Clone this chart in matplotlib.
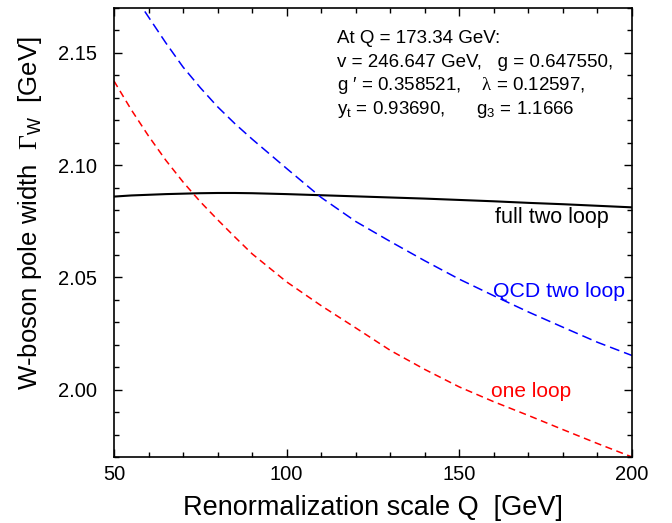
import matplotlib
matplotlib.use('Agg')
import matplotlib.pyplot as plt
from matplotlib.ticker import MultipleLocator

# renormalization scale Q [GeV]
Q = [50, 55, 60, 65, 70, 75, 80, 85, 90, 100, 110, 120, 130, 140, 150, 160,
     170, 180, 190, 200]

# W-boson pole width [GeV]
one_loop = [2.1375, 2.1247, 2.1130, 2.1022, 2.0925, 2.0837, 2.0757, 2.0680,
            2.0605, 2.0480, 2.0374, 2.0275, 2.0175, 2.0090, 2.0012, 1.9946,
            1.9885, 1.9822, 1.9760, 1.9700]
qcd_two_loop = [2.1900, 2.1775, 2.1660, 2.1545, 2.1437, 2.1345, 2.1260, 2.1185,
                2.1116, 2.0985, 2.0856, 2.0749, 2.0660, 2.0574, 2.0492, 2.0418,
                2.0346, 2.0278, 2.0211, 2.0152]
full_two_loop = [2.0860, 2.0865, 2.0868, 2.0871, 2.0873, 2.0875, 2.0876, 2.0876,
                 2.0875, 2.0871, 2.0866, 2.0861, 2.0856, 2.0851, 2.0845, 2.0839,
                 2.0832, 2.0826, 2.0819, 2.0812]

info_lines = ['At Q = 173.34 GeV:',
              'v = 246.647 GeV,   g = 0.647550,',
              'g \u2032 = 0.358521,    $\\mathrm{\\lambda}$ = 0.12597,',
              '$\\mathsf{y_t}$ = 0.93690,      $\\mathsf{g_3}$ = 1.1666']

plt.rcParams['font.family'] = ['Liberation Sans', 'DejaVu Sans']
plt.rcParams['mathtext.fontset'] = 'custom'
plt.rcParams['mathtext.rm'] = 'Liberation Serif'
plt.rcParams['mathtext.sf'] = 'Liberation Sans'
plt.rcParams['mathtext.it'] = 'Liberation Sans:italic'

fig = plt.figure(figsize=(6.72, 5.23), dpi=100)
ax = fig.add_axes([0.1696, 0.1262, 0.7709, 0.8585])

ax.plot(Q, full_two_loop, color='black', lw=1.5)
ax.plot(Q, qcd_two_loop, color='#0000ff', lw=1.1, dashes=(6.5, 3.3))
ax.plot(Q, one_loop, color='#ff0000', lw=1.1, dashes=(4.6, 3.0))

ax.set_xlim(50, 200)
ax.set_ylim(1.970, 2.170)
ax.xaxis.set_major_locator(MultipleLocator(50))
ax.xaxis.set_minor_locator(MultipleLocator(10))
ax.yaxis.set_major_locator(MultipleLocator(0.05))
ax.yaxis.set_minor_locator(MultipleLocator(0.01))
ax.yaxis.set_major_formatter(plt.FormatStrFormatter('%.2f'))

ax.tick_params(which='both', direction='in', top=True, right=True, width=1.0)
ax.tick_params(which='major', length=5.8, labelsize=14.5)
ax.tick_params(axis='x', which='major', pad=6)
ax.tick_params(axis='y', which='major', pad=12)
ax.tick_params(which='minor', length=3.5)
for s in ax.spines.values():
    s.set_linewidth(1.2)

ax.set_xlabel('Renormalization scale Q  [GeV]', fontsize=19.5, labelpad=8)
ax.set_ylabel('W-boson pole width  $\\Gamma_{\\mathsf{W}}$  [GeV]', fontsize=18.5)
ax.yaxis.set_label_coords(-0.135, 0.543)

for i, line in enumerate(info_lines):
    ax.text(0.431, 0.932 - i * 0.0525, line, transform=ax.transAxes,
            fontsize=13.5, va='center', ha='left')

ax.text(0.736, 0.5345, 'full two loop', transform=ax.transAxes, fontsize=15.5,
        va='center', color='black')
ax.text(0.732, 0.3697, 'QCD two loop', transform=ax.transAxes, fontsize=15.3,
        va='center', color='#0000ff')
ax.text(0.728, 0.1448, 'one loop', transform=ax.transAxes, fontsize=15,
        va='center', color='#ff0000')

plt.savefig('out.png', dpi=100)
